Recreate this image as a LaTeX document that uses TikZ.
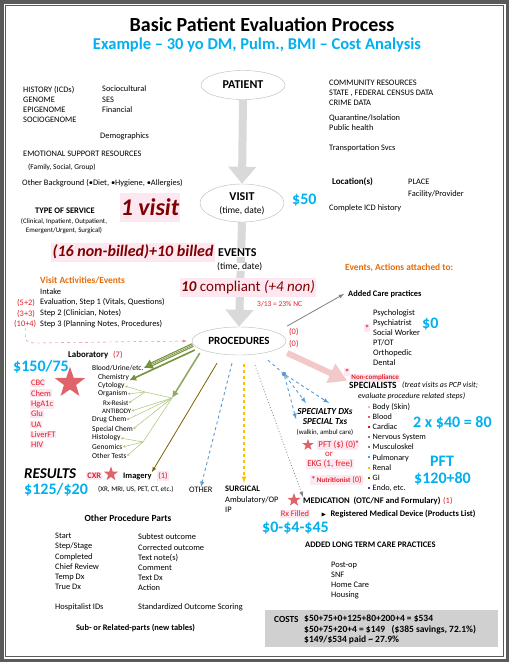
\documentclass[tikz,border=0pt]{standalone}
\usepackage{fontspec}
\setmainfont{Carlito}
\usepackage{amssymb}
\usetikzlibrary{shapes.geometric,arrows.meta,calc,positioning}
\definecolor{framegray}{RGB}{90,90,90}
\definecolor{skyblue}{RGB}{0,176,240}
\definecolor{darkred}{RGB}{128,0,0}
\definecolor{notered}{RGB}{224,32,40}
\definecolor{pinkbg}{RGB}{253,232,241}
\definecolor{actorange}{RGB}{228,108,10}
\definecolor{bigarrow}{RGB}{217,217,217}
\definecolor{pinkarrow}{RGB}{242,200,200}
\definecolor{labgreen}{RGB}{118,146,60}
\definecolor{lightgreen}{RGB}{170,196,120}
\definecolor{imgbrown}{RGB}{128,96,0}
\definecolor{dashblue}{RGB}{91,155,213}
\definecolor{dashyellow}{RGB}{255,192,0}
\definecolor{starred}{RGB}{222,100,105}
\definecolor{costgray}{RGB}{208,208,208}
\definecolor{body}{RGB}{242,180,190}
\definecolor{blood}{RGB}{230,90,110}
\definecolor{cardiac}{RGB}{220,20,40}
\definecolor{nerve}{RGB}{128,128,128}
\definecolor{endo}{RGB}{112,48,160}
\newcommand{\tsz}[2]{\fontsize{#1}{#2}\selectfont}
\newcommand{\bul}[1]{\textcolor{#1}{\rule[1.6pt]{2pt}{2pt}}\hspace{2.5pt}}
\newcommand{\pinkhl}[1]{{\setlength{\fboxsep}{0.8pt}\colorbox{pinkbg}{#1}}}

\begin{document}
\begin{tikzpicture}[
    >=latex, x=1pt, y=-1pt,
    txt/.style={anchor=west, inner sep=0pt, align=left, font=\tsz{8.4}{10}},
    note/.style={txt, text=notered},
    pinkbox/.style={fill=pinkbg, inner sep=1.2pt},
    money/.style={anchor=west, inner sep=0pt, text=skyblue, font=\tsz{16}{18}\bfseries},
    oval/.style={ellipse, draw=gray!55, inner sep=0pt},
    flow/.style={draw=bigarrow, line width=8pt, -{Triangle[width=27pt,length=17pt]}},
    starmark/.style={star, star points=5, star point ratio=2.5, fill=starred, inner sep=0pt},
    twig/.style={draw=lightgreen, line width=0.5pt, -{Latex[length=2.5pt,width=2.5pt]}}]

    \useasboundingbox (0,0) rectangle (509,662);
    \fill[framegray] (0,0) rectangle (509,662);
    \fill[white] (3.5,3.5) rectangle (505.5,658.5);
    \draw[framegray, line width=0.9pt] (5.5,5.5) rectangle (503.5,656.5);

    % title
    \draw(262,25) node[font=\tsz{20}{22}\bfseries] (title) {Basic Patient Evaluation Process};
    \draw(257,45) node[font=\tsz{16.5}{18}\bfseries, text=skyblue] (subtitle) {Example – 30 yo DM, Pulm., BMI – Cost Analysis};

    % main flow
    \draw(243,85) node[oval, minimum width=84pt, minimum height=29pt, font=\tsz{12}{14}\bfseries] (patient) {PATIENT};
    \draw(242,203) node[oval, minimum width=84pt, minimum height=38pt] (visit) {};
    \draw(242,197) node[font=\tsz{12}{14}\bfseries, inner sep=0pt] (visitlbl) {VISIT};
    \draw(242,211) node[font=\tsz{9.5}{11}, inner sep=0pt] (visittime) {(time, date)};
    \draw(239,341) node[oval, minimum width=94pt, minimum height=28pt, font=\tsz{11}{13}\bfseries] (procedures) {PROCEDURES};
    \draw[flow] (patient.south) -- (visit.north);
    \draw[flow] (visit.south) -- (procedures.north);
    \draw(218,253) node[txt, fill=white, font=\tsz{12}{14}\bfseries] (events) {EVENTS};
    \draw(217,267) node[txt, fill=white, font=\tsz{9.5}{11}] (eventtime) {(time, date)};
    \draw(150,207) node[pinkbox, minimum height=29pt, text=darkred, font=\tsz{24}{26}\bfseries\itshape] (onevisit) {1 visit};
    \draw(133,252) node[pinkbox, minimum height=19pt, text=darkred, font=\tsz{16}{18}\bfseries\itshape] (billed) {(16 non-billed)+10 billed};
    \draw(248,287) node[pinkbox, minimum height=19pt, text=darkred, font=\tsz{15}{17}] (compliant) {\textbf{\textit{10}} compliant \textit{(+4 non)}};

    % background of the patient
    \draw(23,104) node[txt] (history) {HISTORY (ICDs)\\GENOME\\EPIGENOME\\SOCIOGENOME};
    \draw(102,99.5) node[txt, font=\tsz{8.4}{10.5}] (socio) {Sociocultural\\SES\\Financial};
    \draw(100,136) node[txt] (demo) {Demographics};
    \draw(23,154) node[txt] (emotional) {EMOTIONAL SUPPORT RESOURCES};
    \draw(28,167) node[txt, font=\tsz{7.5}{8}] (family) {(Family, Social, Group)};
    \draw(22,183) node[txt] (background) {Other Background (•Diet, •Hygiene, •Allergies)};
    \draw(329,93) node[txt] (community) {COMMUNITY RESOURCES\\STATE , FEDERAL CENSUS DATA\\CRIME DATA};
    \draw(329,123) node[txt] (quarantine) {Quarantine/Isolation\\Public health};
    \draw(329,148) node[txt] (transport) {Transportation Svcs};
    \draw(332,182) node[txt, font=\tsz{9}{11}\bfseries] (location) {Location(s)};
    \draw(408,188) node[txt, font=\tsz{8.4}{12}] (place) {PLACE\\Facility/Provider};
    \draw(329,208) node[txt] (icd) {Complete ICD history};
    \draw(292,200) node[money] (visitcost) {\$50};
    \draw(65,211) node[inner sep=0pt, font=\tsz{8.5}{9}\bfseries] (service) {TYPE OF SERVICE};
    \draw(64,226) node[inner sep=0pt, align=center, font=\tsz{6.9}{8.5}] (servicekinds) {(Clinical, Inpatient, Outpatient,\\Emergent/Urgent, Surgical)};

    % visit activities
    \draw(40,280) node[txt, text=actorange, font=\tsz{9.4}{10}\bfseries] (activities) {Visit Activities/Events};
    \draw(40,308) node[txt, font=\tsz{8.4}{10.7}] (steps) {Intake\\Evaluation, Step 1 (Vitals, Questions)\\Step 2 (Clinician, Notes)\\Step 3 (Planning Notes, Procedures)};
    \draw(17,303) node[note] (countA) {(5+2)};
    \draw(17,314) node[note] (countB) {(3+3)};
    \draw(14,324) node[note] (countC) {(10+4)};
    \coordinate (bend) at (36,343);
    \draw[dashed, draw=notered!60, ->] (countC.south) .. controls +(0,12) and +(-12,0) .. (bend) -- ([xshift=-5pt]procedures.west);

    % events attached
    \draw(345,268) node[txt, text=actorange, font=\tsz{9.4}{10}\bfseries] (attached) {Events, Actions attached to:};
    \draw(348,294) node[txt, font=\tsz{8.4}{10}\bfseries] (addedcare) {Added Care practices};
    \draw(257,304) node[note, font=\tsz{7.5}{9}] (ncrate) {3/13 = 23\% NC};
    \draw(289,332) node[note] (zeroA) {(0)};
    \draw(289,344) node[note] (zeroB) {(0)};
    \draw(373,338) node[txt, font=\tsz{8.4}{10}] (carelist) {Psychologist\\Psychiatrist\\Social Worker\\PT/OT\\Orthopedic\\Dental};
    \draw(367,328) node[pinkbox, text=notered, font=\tsz{9}{10}\bfseries, inner sep=0.6pt] (careflag) {*};
    \draw(422,324) node[money] (carecost) {\$0};
    \draw[gray, ->, line width=0.8pt] ($(procedures.east)+(1,-15)$) -- ([xshift=-4pt]addedcare.west);

    % specialists
    \draw(347,372) node[pinkbox, text=notered, font=\tsz{9}{10}\bfseries, inner sep=0.5pt] (ncflag) {*};
    \draw(350,378) node[txt, pinkbox, text=notered, font=\tsz{7}{7}\bfseries] (noncompliance) {Non-compliance};
    \draw(349,385) node[txt, font=\tsz{9.5}{11}\bfseries] (specialists) {SPECIALISTS};
    \draw(402,385) node[txt, font=\tsz{7.9}{9}\itshape] (pcpnote) {(treat visits as PCP visit;};
    \draw(358,396) node[txt, font=\tsz{7.9}{9}\itshape] (pcpnote2) {evaluate procedure related steps)};
    \draw(368,447.5) node[txt, font=\tsz{8.2}{10.1}] (organs) {\bul{body}Body (Skin)\\\bul{blood}Blood\\\bul{cardiac}Cardiac\\\bul{nerve}Nervous System\\\bul{nerve}Musculoskel\\\bul{dashblue}Pulmonary\\\bul{dashyellow}Renal\\\bul{imgbrown}GI\\\bul{endo}Endo, etc.};
    \draw(413,423) node[money] (specialcost) {2 x \$40 = 80};
    \draw(430,461) node[money] (pftlbl) {PFT};
    \draw(414,479) node[money] (pftcost) {\$120+80};
    \draw[draw=pinkarrow, line width=6pt, -{Triangle[width=20pt,length=18pt]}, shorten >=2pt] ($(procedures.east)+(1,12)$) -- (specialists.north west);

    % laboratory
    \draw(68,355) node[txt, font=\tsz{8.9}{10}\bfseries] (lab) {Laboratory};
    \draw(113,355) node[note] (labcount) {(7)};
    \draw(13,367) node[money] (labcost) {\$150/75};
    \draw(70,383) node[starmark, minimum size=32pt] (labstar) {};
    \draw(30,414) node[txt, text=notered, font=\tsz{8.5}{10.3}] (labtests) {\pinkhl{CBC}\\\pinkhl{Chem}\\\pinkhl{HgA1c}\\\pinkhl{Glu}\\\pinkhl{UA}\\\pinkhl{LiverFT}\\\pinkhl{HIV}};
    \draw(92,368) node[txt, font=\tsz{7.5}{9}] (blood) {Blood/Urine/etc.};
    \draw(98,377) node[txt, font=\tsz{7.5}{9}] (chemistry) {Chemistry};
    \draw(98,386) node[txt, font=\tsz{7.5}{9}] (cytology) {Cytology};
    \draw(98,394) node[txt, font=\tsz{7.5}{9}] (organism) {Organism};
    \draw(103,403) node[txt, font=\tsz{7}{9}] (rxresist) {Rx-Resist};
    \draw(102,411) node[txt, font=\tsz{6.8}{9}] (antibody) {ANTIBODY};
    \draw(92,420) node[txt, font=\tsz{7.5}{9}] (drugchem) {Drug Chem};
    \draw(92,429) node[txt, font=\tsz{7.5}{9}] (specialchem) {Special Chem};
    \draw(92,438) node[txt, font=\tsz{7.5}{9}] (histology) {Histology};
    \draw(92,447) node[txt, font=\tsz{7.5}{9}] (genomics) {Genomics};
    \draw(92,456) node[txt, font=\tsz{7.5}{9}] (othertests) {Other Tests};
    \coordinate (hubA) at (145,392);
    \coordinate (hubB) at (172,398);
    \coordinate (hubC) at (143,442);
    \draw[labgreen, line width=4pt, -{Latex[length=9pt,width=11pt]}] ($(procedures.west)+(1,4)$) -- (blood.east);
    \draw[white, line width=0.45pt, double=labgreen, double distance=0.7pt, shorten >=9pt] ($(procedures.west)+(1,4)$) -- (blood.east);
    \draw[labgreen, line width=1.6pt, -{Latex[length=7pt,width=7pt]}] ($(procedures.west)+(3,9)$) -- (chemistry.south east);
    \draw[labgreen!80, line width=1.6pt, -{Latex[length=7pt,width=7pt]}] ($(procedures.west)+(8,12)$) -- (hubB);
    \draw[twig] (hubA) -- (cytology.east);
    \draw[twig] (hubA) -- (organism.east);
    \draw[twig] (hubA) -- (rxresist.east);
    \draw[lightgreen, line width=0.5pt] (hubB) -- (hubA);
    \draw[twig] (hubB) -- (antibody.east);
    \draw[twig] (hubB) -- (drugchem.east);
    \draw[twig] (hubB) -- (specialchem.east);
    \draw[lightgreen, line width=0.5pt] (hubB) -- (hubC);
    \draw[twig] (hubC) -- (histology.east);
    \draw[twig] (hubC) -- (genomics.east);
    \draw[twig] (hubC) -- (othertests.east);

    % results, imagery, other, surgical
    \draw(24,474) node[txt, font=\tsz{15}{16}\bfseries\itshape] (results) {RESULTS};
    \draw(24,490) node[money] (resultcost) {\$125/\$20};
    \draw(86,476) node[txt, pinkbox, text=notered, font=\tsz{8.4}{10}\bfseries] (cxr) {CXR};
    \draw(111,474) node[starmark, minimum size=15pt] (cxrstar) {};
    \draw(123,476) node[txt, font=\tsz{8.4}{10}\bfseries] (imagery) {Imagery};
    \draw(157,476) node[txt, pinkbox, text=notered] (imgcount) {(1)};
    \draw(98,489) node[txt, font=\tsz{7.1}{8}] (modalities) {(XR, MRI, US, PET, CT, etc.)};
    \draw(189,490) node[txt] (other) {OTHER};
    \draw(225,489) node[txt, font=\tsz{8.4}{10}\bfseries] (surgical) {SURGICAL};
    \draw(225,504.5) node[txt, font=\tsz{8.4}{9.5}] (surgkinds) {Ambulatory/OP\\IP};

    % medication
    \draw(294,500) node[starmark, minimum size=14pt] (medstar) {};
    \draw(303,501) node[txt, font=\tsz{8.6}{10}\bfseries] (medication) {MEDICATION\ \ (OTC/NF and Formulary)};
    \draw(443,501) node[note] (medcount) {(1)};
    \draw(295,514) node[pinkbox, text=notered, font=\tsz{8.4}{10}] (rxfilled) {Rx Filled};
    \draw(321,514) node[txt, font=\tsz{8.5}{10}\bfseries] (device) {{\tsz{6}{7}$\blacktriangleright$}\hspace{4pt}Registered Medical Device (Products List)};
    \draw(262,528) node[money] (medcost) {\$0-\$4-\$45};

    \coordinate (imgout) at ($(procedures.south)+(-22,8)$);
    \coordinate (otherout) at ($(procedures.south)+(-7,8)$);
    \coordinate (surgout) at ($(procedures.south)+(5,9)$);
    \coordinate (medout) at ($(procedures.south)+(16,10)$);
    \draw[imgbrown, line width=0.8pt, ->] (imgout) -- (imagery.north east);
    \draw[dashblue, dashed, line width=0.9pt, ->] (otherout) -- (other.north);
    \draw[dashyellow, dashed, line width=1.2pt, ->, shorten >=3pt] (surgout) -- (surgout |- surgical.north);
    \draw[gray, dotted, line width=0.8pt, ->] (medout) -- (medication.north west);

    % specialty dxs
    \draw(284,374) node[circle, fill=dashblue, inner sep=0pt, minimum size=4.5pt] (spdot) {};
    \coordinate (dxA) at (296,419);
    \coordinate (dxB) at (306,403);
    \coordinate (dxC) at (329,403);
    \draw[dashblue, dashed, line width=0.9pt] ($(procedures.south)+(29,5)$) -- (spdot);
    \draw[dashblue, dashed, line width=0.9pt, ->] (spdot) -- (dxA);
    \draw[dashblue, dashed, line width=0.9pt, ->] (spdot) -- (dxB);
    \draw[dashblue, dashed, line width=0.9pt, ->] (spdot) -- (dxC);
    \draw(325,417) node[inner sep=0pt, align=center, font=\tsz{9.2}{10}\bfseries\itshape] (specdx) {SPECIALTY DXs\\SPECIAL Txs};
    \draw(325,432) node[inner sep=0pt, font=\tsz{6.9}{8}] (walkin) {(walkin, ambul care)};
    \draw(308,445) node[starmark, minimum size=12pt] (pftstar) {};
    \draw(317,445) node[txt, pinkbox, text=notered, font=\tsz{9}{10}] (pft) {PFT (\$) (0)};
    \draw(357,444) node[pinkbox, text=notered, font=\tsz{8}{9}\bfseries, inner sep=0.5pt] (pftflag) {*};
    \draw(329,454) node[note, anchor=center, font=\tsz{9}{10}] (orlbl) {or};
    \draw(330,464) node[pinkbox, text=notered, font=\tsz{9}{10}] (ekg) {EKG (1, free)};
    \draw(310,480) node[txt, pinkbox, text=notered, font=\tsz{8.4}{10}] (nutrition) {{\bfseries*}\,{\tsz{7}{8}\bfseries Nutritionist} (0)};

    % long term care and costs
    \draw(305,545) node[txt, font=\tsz{8.5}{9}\bfseries] (longterm) {ADDED LONG TERM CARE PRACTICES};
    \draw(331,581) node[txt] (ltclist) {Post-op\\SNF\\Home Care\\Housing};
    \draw(381.5,628.5) node[fill=costgray, minimum width=233pt, minimum height=37pt, inner sep=0pt] (costbox) {};
    \draw(274,619) node[txt, font=\tsz{9.3}{10.5}\bfseries] (costlbl) {COSTS};
    \draw(304,629.5) node[txt, font=\tsz{9.5}{10.5}\bfseries] (costsum) {\$50+75+0+125+80+200+4 = \$534\\\$50+75+20+4 = \$149\ \ \ (\$385 savings, 72.1\%)\\\$149/\$534 paid \textasciitilde{} 27.9\%};

    % other procedure parts
    \draw(128,518) node[inner sep=0pt, font=\tsz{9.4}{10}\bfseries] (otherparts) {Other Procedure Parts};
    \draw(55,561.5) node[txt, font=\tsz{8.4}{10.2}] (stages) {Start\\Step/Stage\\Completed\\Chief Review\\Temp Dx\\True Dx};
    \draw(138,562.5) node[txt, font=\tsz{8.4}{10.2}] (outcomes) {Subtest outcome\\Corrected outcome\\Text note(s)\\Comment\\Text Dx\\Action};
    \draw(55,607) node[txt] (hospitalist) {Hospitalist IDs};
    \draw(138,607) node[txt] (scoring) {Standardized Outcome Scoring};
    \draw(135.5,628) node[inner sep=0pt, font=\tsz{8.4}{10}\bfseries] (subparts) {Sub- or Related-parts (new tables)};

\end{tikzpicture}
\end{document}
